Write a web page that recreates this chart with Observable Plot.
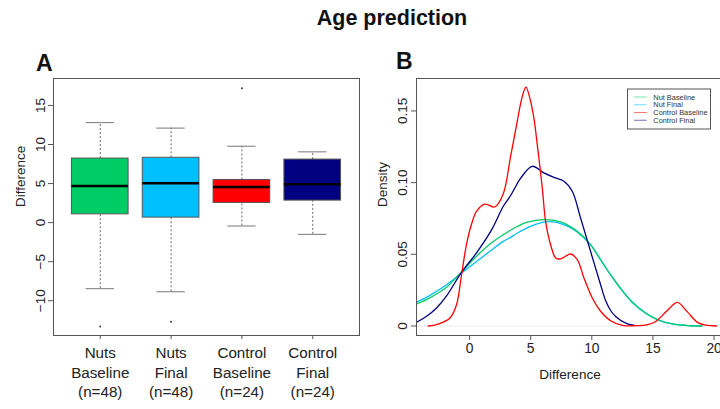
<!DOCTYPE html>
<html><head><meta charset="utf-8">
<script src="https://cdn.jsdelivr.net/npm/d3@7"></script>
<script src="https://cdn.jsdelivr.net/npm/@observablehq/plot@0.6"></script>
<style>
body{margin:0;background:#fff;}
#wrap{position:relative;width:720px;height:409px;overflow:hidden;font-family:"Liberation Sans",Arial,sans-serif;background:#fff;}
#wrap > svg{position:absolute;top:0;}
</style>
</head><body>
<div id="wrap"></div>
<script>
// ---------- Panel A data (boxplot) ----------
const groups = ["Nuts Baseline", "Nuts Final", "Control Baseline", "Control Final"];
const groupLabels = ["Nuts\nBaseline\n(n=48)", "Nuts\nFinal\n(n=48)", "Control\nBaseline\n(n=24)", "Control\nFinal\n(n=24)"];
const boxColors = ["#00CC66", "#00BFFF", "#FF0000", "#000080"];
const lowerWhisker = [-8.46, -8.85, -0.43, -1.5];
const q1 = [1.06, 0.64, 2.52, 2.82];
const medians = [4.7, 5.04, 4.57, 4.91];
const q3 = [8.2, 8.3, 5.46, 8.07];
const upperWhisker = [12.8, 12.1, 9.78, 9.06];
const outlierGroup = [1, 2, 3];
const outlierValue = [-13.3, -12.7, 17.2];
const yTicksA = [-10, -5, 0, 5, 10, 15];

// ---------- Panel B data (density curves) ----------
const seriesNames = ["Nut Baseline", "Nut Final", "Control Baseline", "Control Final"];
const lineColors = ["#00CC66", "#00BFFF", "#FF0000", "#000080"];
const nutBaselineX = [-4.34, -3.52, -2.7, -1.88, -0.65, 0.57, 1.8, 2.76, 3.36, 3.85, 4.72, 6.08, 7.45, 8.81, 9.9, 10.72, 11.13, 11.54, 12.22, 13.3, 14.4, 15.5, 16.6, 17.9, 19.0];
const nutBaselineY = [0.0154, 0.0184, 0.0223, 0.027, 0.0377, 0.0486, 0.058, 0.0637, 0.0668, 0.0692, 0.0724, 0.0742, 0.0726, 0.066, 0.0568, 0.0463, 0.0408, 0.0356, 0.0277, 0.0167, 0.009, 0.004, 0.0014, 0.0002, 0];
const nutFinalX = [-4.34, -3.52, -2.7, -1.88, -0.65, 0.57, 1.8, 2.76, 3.36, 3.85, 4.72, 5.4, 6.08, 6.9, 8.0, 8.81, 9.9, 10.72, 11.54, 12.22, 13.3, 14.4, 15.5, 16.6, 17.9, 19.0];
const nutFinalY = [0.0167, 0.020, 0.0242, 0.0288, 0.037, 0.045, 0.053, 0.059, 0.0618, 0.0645, 0.0684, 0.0708, 0.0724, 0.0726, 0.0696, 0.0656, 0.0566, 0.0461, 0.0356, 0.0276, 0.0166, 0.0089, 0.0039, 0.0014, 0.0002, 0];
const controlBaselineX = [-3.38, -2.5, -1.6, -1.06, -0.65, -0.25, 0.16, 0.57, 1.26, 2.07, 2.75, 3.36, 3.9, 4.31, 4.61, 4.93, 5.26, 5.54, 5.95, 6.22, 6.63, 7.04, 7.45, 8.27, 8.81, 9.36, 10.04, 10.72, 11.54, 12.5, 13.6, 14.5, 15.2, 16.2, 17.0, 17.8, 18.76, 20.2];
const controlBaselineY = [0, 0.0015, 0.0056, 0.015, 0.036, 0.057, 0.071, 0.080, 0.085, 0.083, 0.092, 0.1184, 0.1428, 0.160, 0.1666, 0.159, 0.1452, 0.1265, 0.0963, 0.073, 0.0567, 0.0475, 0.0468, 0.0502, 0.0463, 0.0335, 0.0195, 0.0103, 0.0037, 0.0005, 0.0002, 0.0008, 0.003, 0.011, 0.0165, 0.010, 0.002, 0];
const controlFinalX = [-4.34, -3.52, -2.7, -1.88, -0.65, 0.57, 1.8, 2.76, 3.36, 3.85, 4.17, 5.13, 6.08, 6.9, 7.72, 8.4, 9.08, 9.9, 10.72, 11.13, 11.54, 11.95, 12.77, 13.45];
const controlFinalY = [0.0026, 0.0068, 0.0126, 0.021, 0.0375, 0.051, 0.067, 0.0835, 0.091, 0.0985, 0.103, 0.1114, 0.1068, 0.1037, 0.101, 0.094, 0.0754, 0.052, 0.0288, 0.0177, 0.0108, 0.0066, 0.002, 0.0005];
const xTicksB = [0, 5, 10, 15, 20];
const yTicksB = [0, 0.05, 0.10, 0.15];

const font = '"Liberation Sans", Arial, sans-serif';
const wrap = document.getElementById("wrap");

// ---------- Panel A ----------
const boxes = groups.map((g, i) => ({
  g, pos: i + 1, lo: lowerWhisker[i], q1: q1[i], med: medians[i], q3: q3[i], hi: upperWhisker[i], fill: boxColors[i]
}));
const outliers = outlierGroup.map((p, i) => ({pos: p, v: outlierValue[i]}));

const plotA = Plot.plot({
  width: 362, height: 409,
  marginLeft: 53, marginRight: 3, marginTop: 78, marginBottom: 74,
  x: {domain: [0.34, 4.66]},
  y: {domain: [-14.45, 18.45]},
  style: {fontFamily: font, fontSize: "13.5px", color: "#222", background: "transparent"},
  marks: [
    Plot.ruleX(boxes, {x: "pos", y1: "q3", y2: "hi", stroke: "#666", strokeDasharray: "2,2"}),
    Plot.ruleX(boxes, {x: "pos", y1: "lo", y2: "q1", stroke: "#666", strokeDasharray: "2,2"}),
    Plot.ruleY(boxes, {y: "hi", x1: d => d.pos - 0.2, x2: d => d.pos + 0.2, stroke: "#777"}),
    Plot.ruleY(boxes, {y: "lo", x1: d => d.pos - 0.2, x2: d => d.pos + 0.2, stroke: "#777"}),
    Plot.rect(boxes, {x1: d => d.pos - 0.4, x2: d => d.pos + 0.4, y1: "q1", y2: "q3", fill: "fill", stroke: "#555"}),
    Plot.ruleY(boxes, {y: "med", x1: d => d.pos - 0.4, x2: d => d.pos + 0.4, stroke: "#000", strokeWidth: 2.5}),
    Plot.dot(outliers, {x: "pos", y: "v", r: 1, fill: "#333", stroke: null}),
    Plot.frame({stroke: "#555"}),
    Plot.axisY({ticks: yTicksA, tickSize: 5, tickRotate: -90, tickPadding: 4, stroke: "#555", fill: "#222", label: null}),
    Plot.axisX({ticks: [1, 2, 3, 4], tickFormat: d => groupLabels[d - 1], tickSize: 4, tickPadding: 4.5, fontSize: 15.2, lineHeight: 1.29, stroke: "#555", fill: "#222", label: null}),
    Plot.text(["Difference"], {frameAnchor: "left", dx: -33, rotate: -90, lineAnchor: "middle", fontSize: 13.5, fill: "#222"})
  ]
});
plotA.style.left = "0px";
wrap.appendChild(plotA);

// ---------- Panel B ----------
function mk(xs, ys, name) { return xs.map((x, i) => ({x, y: ys[i], s: name})); }
const dNB = mk(nutBaselineX, nutBaselineY, seriesNames[0]);
const dNF = mk(nutFinalX, nutFinalY, seriesNames[1]);
const dCB = mk(controlBaselineX, controlBaselineY, seriesNames[2]);
const dCF = mk(controlFinalX, controlFinalY, seriesNames[3]);

const plotB = Plot.plot({
  width: 372, height: 409,
  marginLeft: 56, marginRight: 5, marginTop: 78, marginBottom: 74,
  x: {domain: [-4.34, 21.1]},
  y: {domain: [-0.00664, 0.17264]},
  style: {fontFamily: font, fontSize: "13.5px", color: "#222", background: "transparent"},
  marks: [
    Plot.ruleY([0], {stroke: "#eee"}),
    Plot.line(dNF, {x: "x", y: "y", stroke: lineColors[1], strokeWidth: 1.3, curve: "catmull-rom", clip: true}),
    Plot.line(dNB, {x: "x", y: "y", stroke: lineColors[0], strokeWidth: 1.3, curve: "catmull-rom", clip: true}),
    Plot.line(dCF, {x: "x", y: "y", stroke: lineColors[3], strokeWidth: 1.3, curve: "catmull-rom", clip: true}),
    Plot.line(dCB, {x: "x", y: "y", stroke: lineColors[2], strokeWidth: 1.3, curve: "catmull-rom", clip: true}),
    Plot.frame({stroke: "#555"}),
    Plot.axisY({ticks: yTicksB, tickFormat: d => d === 0 ? "0" : d.toFixed(2), tickSize: 5, tickRotate: -90, tickPadding: 5, stroke: "#555", fill: "#222", label: null}),
    Plot.axisX({ticks: xTicksB, tickSize: 5, tickPadding: 3, fontSize: 13.8, stroke: "#555", fill: "#222", label: null}),
    Plot.text(["Density"], {frameAnchor: "left", dx: -34, rotate: -90, lineAnchor: "middle", fontSize: 13.5, fill: "#222"}),
    Plot.text(["Difference"], {frameAnchor: "bottom", dx: -2, dy: 43, lineAnchor: "bottom", fontSize: 13.5, fill: "#222"})
  ]
});
plotB.style.left = "360px";
wrap.appendChild(plotB);

// ---------- Overlay: title, panel letters, legend ----------
const ov = d3.select(wrap).append("svg")
  .attr("width", 720).attr("height", 409)
  .style("left", "0px").style("pointer-events", "none")
  .style("font-family", font);
ov.append("text").attr("x", 392).attr("y", 25).attr("text-anchor", "middle")
  .attr("font-weight", "bold").attr("font-size", 21.5).attr("fill", "#111").text("Age prediction");
ov.append("text").attr("x", 36).attr("y", 70.5).attr("font-weight", "bold").attr("font-size", 23).attr("fill", "#111").text("A");
ov.append("text").attr("x", 396).attr("y", 68.5).attr("font-weight", "bold").attr("font-size", 23).attr("fill", "#111").text("B");

const lg = ov.append("g");
lg.append("rect").attr("x", 627.5).attr("y", 89).attr("width", 83).attr("height", 40)
  .attr("fill", "#fff").attr("stroke", "#555").attr("stroke-width", 1);
seriesNames.forEach((name, i) => {
  const cy = 97 + i * 7.75;
  lg.append("line").attr("x1", 634).attr("x2", 646.7).attr("y1", cy).attr("y2", cy)
    .attr("stroke", lineColors[i]).attr("stroke-width", 1).attr("stroke-opacity", 0.55);
  lg.append("text").attr("x", 653.3).attr("y", cy).attr("dy", "0.35em")
    .attr("font-size", 7.4).attr("fill", "#333").text(name);
});
</script>
</body></html>
